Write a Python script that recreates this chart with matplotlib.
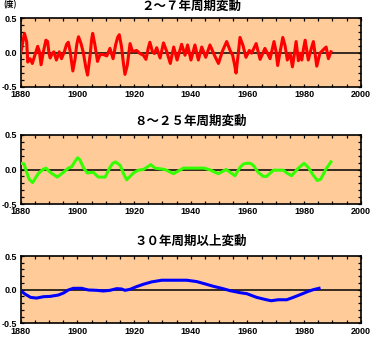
import matplotlib
matplotlib.use("Agg")
import matplotlib.pyplot as plt
from matplotlib.ticker import MultipleLocator

# ---- data ----
years_a = [1880, 1880.6, 1881.3, 1882.1, 1882.5, 1883.3, 1884.1, 1885.0, 1886.0, 1886.6,
           1887.2, 1888.0, 1888.9, 1889.5, 1890.0, 1890.4, 1891.1, 1891.7, 1892.6, 1893.6,
           1894.4, 1895.4, 1896.2, 1896.8, 1897.4, 1898.4, 1899.2, 1899.8, 1900.4, 1901.3,
           1902.1, 1903.0, 1903.6, 1904.5, 1905.0, 1905.4, 1906.2, 1907.1, 1908.0, 1909.2,
           1910.4, 1911.5, 1912.6, 1913.5, 1914.2, 1914.8, 1915.6, 1916.2, 1916.8, 1917.6,
           1918.6, 1919.4, 1920.1, 1920.9, 1922.1, 1923.3, 1924.2, 1925.0, 1925.6, 1926.5,
           1927.2, 1928.0, 1929.2, 1930.4, 1931.5, 1932.8, 1934.0, 1935.2, 1936.8, 1938.0,
           1938.9, 1940.1, 1941.5, 1942.7, 1943.9, 1945.3, 1946.8, 1948.6, 1949.8, 1951.2,
           1952.7, 1953.9, 1954.8, 1955.5, 1956.0, 1956.7, 1957.4, 1958.4, 1959.5, 1960.7,
           1961.5, 1963.1, 1964.5, 1966.2, 1967.2, 1968.0, 1968.8, 1969.4, 1970.1, 1970.7,
           1971.6, 1972.5, 1973.3, 1974.1, 1975.1, 1975.9, 1976.6, 1977.2, 1978.0, 1978.6,
           1979.2, 1979.8, 1980.4, 1981.5, 1982.5, 1983.3, 1984.0, 1984.5, 1985.6, 1986.8,
           1987.8, 1988.6, 1989.5]
vals_a = [-0.015, 0.12, 0.28, 0.16, -0.14, -0.09, -0.16, -0.04, 0.09, 0.01,
          -0.18, 0.01, 0.18, 0.16, -0.015, -0.08, -0.015, 0.01, -0.11, 0.01,
          -0.09, 0.01, 0.12, 0.15, 0.03, -0.27, -0.09, 0.12, 0.23, 0.13,
          0.0, -0.22, -0.33, -0.04, 0.18, 0.28, 0.11, -0.13, -0.03, -0.03,
          -0.05, 0.06, -0.09, 0.11, 0.22, 0.26, 0.08, -0.14, -0.32, -0.19,
          0.13, 0.02, 0.02, 0.03, -0.015, -0.04, -0.10, 0.06, 0.15, 0.01,
          -0.015, 0.07, -0.08, 0.14, 0.02, -0.16, 0.08, -0.11, 0.12, -0.04,
          0.11, -0.11, 0.11, -0.11, 0.08, -0.07, 0.11, -0.06, -0.16, 0.02,
          0.16, 0.03, -0.04, -0.18, -0.30, -0.05, 0.22, 0.11, -0.07, 0.03,
          -0.01, 0.13, -0.10, 0.06, -0.02, -0.09, 0.05, 0.16, 0.02, -0.19,
          0.02, 0.22, 0.10, -0.11, -0.01, -0.21, -0.02, 0.16, -0.12, -0.01,
          -0.11, 0.05, 0.18, -0.11, 0.05, 0.16, -0.05, -0.20, -0.01, 0.04,
          0.08, -0.09, 0.01]

years_b = [1880, 1881.2, 1882.1, 1883.0, 1884.2, 1886.2, 1887.8, 1888.9, 1890.4, 1892.9,
           1895.1, 1896.8, 1898.0, 1899.2, 1900.1, 1900.9, 1902.1, 1903.5, 1905.6, 1907.4,
           1909.8, 1911.5, 1912.5, 1913.5, 1915.1, 1916.3, 1917.4, 1919.8, 1921.5, 1923.3,
           1925.9, 1927.4, 1929.2, 1930.9, 1933.9, 1936.2, 1937.4, 1940.4, 1944.7, 1946.8,
           1948.6, 1949.8, 1952.5, 1953.9, 1955.6, 1957.4, 1958.6, 1959.8, 1961.0, 1962.1,
           1963.8, 1965.6, 1966.8, 1969.2, 1972.7, 1973.9, 1975.6, 1978.0, 1980.0, 1981.5,
           1983.2, 1984.7, 1985.9, 1987.8, 1989.5]
vals_b = [0.09, 0.08, -0.04, -0.14, -0.19, -0.06, 0.0, 0.02, -0.04, -0.11,
          -0.04, 0.02, 0.04, 0.12, 0.17, 0.14, 0.03, -0.05, -0.04, -0.11,
          -0.11, 0.03, 0.09, 0.11, 0.06, -0.06, -0.15, -0.05, -0.01, 0.0,
          0.07, 0.02, 0.01, 0.0, -0.06, -0.01, 0.02, 0.02, 0.02, -0.005,
          -0.04, -0.06, 0.0, -0.04, -0.09, 0.03, 0.08, 0.09, 0.09, 0.06,
          -0.04, -0.10, -0.10, -0.01, -0.01, -0.05, -0.09, 0.02, 0.09, 0.03,
          -0.08, -0.16, -0.14, 0.01, 0.11]

years_c = [1880, 1881.5, 1883.5, 1885.6, 1888.0, 1890.4, 1893.3, 1895.1, 1896.8, 1898.6,
           1901.5, 1903.9, 1906.8, 1909.2, 1911.5, 1913.9, 1915.6, 1916.8, 1918.6, 1920.9,
           1923.3, 1926.2, 1929.8, 1933.9, 1938.6, 1942.1, 1945.1, 1948.0, 1950.9, 1953.9,
           1957.4, 1959.8, 1963.3, 1966.2, 1968.4, 1970.9, 1973.9, 1976.2, 1979.2, 1981.5,
           1983.3, 1985.3]
vals_c = [-0.015, -0.065, -0.115, -0.125, -0.105, -0.10, -0.08, -0.05, -0.005, 0.02,
          0.02, -0.005, -0.01, -0.02, -0.01, 0.015, 0.01, -0.01, 0.005, 0.045,
          0.08, 0.115, 0.14, 0.14, 0.14, 0.12, 0.085, 0.05, 0.02, -0.015,
          -0.045, -0.06, -0.115, -0.145, -0.165, -0.15, -0.15, -0.115, -0.065, -0.025,
          0.0, 0.02]

titles = ["２～７年周期変動", "８～２５年周期変動", "３０年周期以上変動"]
unit_label = "(度)"
x_ticks = [1880, 1900, 1920, 1940, 1960, 1980, 2000]
y_ticks = [-0.5, 0.0, 0.5]

# ---- plot ----
W, H = 375, 340
fig = plt.figure(figsize=(W / 100, H / 100), dpi=100)
fig.patch.set_facecolor("white")

tick_font = ["Liberation Sans Narrow", "Liberation Sans", "DejaVu Sans"]
jp_font = ["Noto Sans CJK JP", "DejaVu Sans"]

# axes boxes in pixels: (top, bottom)
boxes = [(18.3, 86.7), (135.0, 204.0), (256.0, 323.3)]
left_px, right_px = 20.7, 360.7
title_y = [6.0, 121.0, 241.0]
series = [(years_a, vals_a, "#FF0000"), (years_b, vals_b, "#33FF00"), (years_c, vals_c, "#0000FF")]

for i, ((top, bot), (xs, ys, col)) in enumerate(zip(boxes, series)):
    ax = fig.add_axes([left_px / W, (H - bot) / H, (right_px - left_px) / W, (bot - top) / H])
    ax.set_facecolor("#FFCC99")
    ax.set_xlim(1880, 2000)
    ax.set_ylim(-0.5, 0.5)
    ax.axhline(0, color="black", lw=1.1, zorder=2)
    ax.plot(xs, ys, color=col, lw=2.2, zorder=3, solid_joinstyle="round")
    ax.set_xticks(x_ticks)
    ax.set_yticks(y_ticks)
    ax.set_xticklabels([str(t) for t in x_ticks])
    ax.set_yticklabels(["-0.5", "0.0", "0.5"])
    ax.xaxis.set_minor_locator(MultipleLocator(5))
    ax.yaxis.set_minor_locator(MultipleLocator(0.1))
    ax.tick_params(which="both", direction="in", top=True, right=True, length=2.5,
                   width=0.9, labelsize=6.5, pad=2.5)
    for lab in ax.get_xticklabels() + ax.get_yticklabels():
        lab.set_family(tick_font)
        lab.set_fontweight("bold")
    for sp in ax.spines.values():
        sp.set_linewidth(1.2)
    fig.text(191 / W, 1 - title_y[i] / H, titles[i], ha="center", va="center",
             fontsize=9, fontweight="bold", family=jp_font)

fig.text(3 / W, 1 - 5 / H, unit_label, ha="left", va="center", fontsize=5.5,
         fontweight="bold", family=jp_font)

fig.savefig("out.png", dpi=100)
